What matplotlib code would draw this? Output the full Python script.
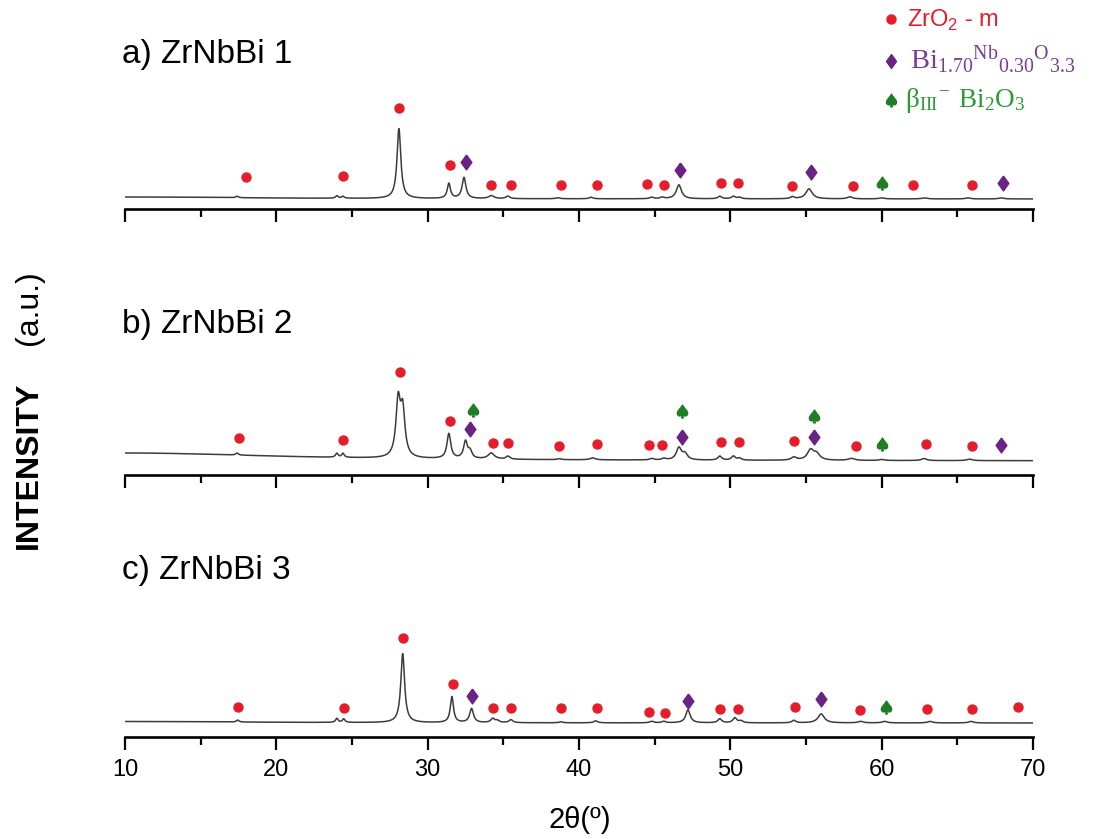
import numpy as np
import matplotlib
matplotlib.use('Agg')
import matplotlib.pyplot as plt
from matplotlib.ticker import MultipleLocator
from matplotlib.lines import Line2D

plt.rcParams['font.family'] = ['Liberation Sans', 'DejaVu Sans']

# ---- datos (alturas en unidades arbitrarias) ----
two_theta = np.linspace(10, 70, 4000)

# picos: posicion (grados), altura, anchura (FWHM, grados)
pos_a = [10.0, 17.4, 24.0, 24.4, 28.1, 31.4, 32.4, 34.2, 35.3, 38.6, 40.8, 44.8, 45.5,
         46.6, 49.3, 50.2, 50.6, 54.1, 55.2, 57.9, 60.0, 62.8, 65.7, 67.9]
h_a = [2.0, 1.5, 2.5, 2.0, 70, 15, 21, 3.0, 2.5, 1.0, 1.5, 1.5, 1.5,
       14, 2.5, 2.5, 1.5, 2.0, 10, 2.0, 1.0, 1.0, 1.0, 1.0]
w_a = [20, 0.2, 0.2, 0.2, 0.3, 0.25, 0.3, 0.4, 0.3, 0.3, 0.3, 0.3, 0.3,
       0.4, 0.3, 0.3, 0.3, 0.3, 0.5, 0.4, 0.4, 0.4, 0.4, 0.4]
base_a = 10

pos_b = [10.0, 17.4, 24.0, 24.4, 28.05, 28.35, 31.4, 32.5, 32.8, 34.2, 35.3, 38.7, 40.9,
         44.8, 45.6, 46.6, 47.0, 49.3, 50.2, 50.6, 54.2, 55.3, 55.7, 58.0, 60.0, 62.8, 65.8]
h_b = [8.0, 2.0, 4.0, 4.0, 55, 45, 25, 17, 7, 6, 3, 1, 2,
       1.5, 1.5, 12, 6, 4, 4, 2, 3, 10, 6, 2, 1, 2, 1.5]
w_b = [25, 0.2, 0.2, 0.2, 0.35, 0.35, 0.3, 0.3, 0.3, 0.5, 0.3, 0.3, 0.4,
       0.3, 0.3, 0.4, 0.4, 0.3, 0.3, 0.3, 0.4, 0.5, 0.5, 0.5, 0.4, 0.4, 0.4]
base_b = 14

pos_c = [10.0, 17.45, 24.0, 24.45, 28.35, 31.6, 32.9, 34.3, 34.6, 35.5, 38.8, 41.1, 44.8,
         45.6, 47.2, 49.3, 50.3, 50.7, 54.2, 56.0, 58.6, 60.2, 63.2, 65.9]
h_c = [1.5, 2.0, 4.0, 3.5, 69, 26, 14, 4, 2, 3, 1, 2, 1.5,
       1.5, 13, 4, 5, 2, 2.5, 9, 1.5, 1.5, 1.5, 1.5]
w_c = [20, 0.2, 0.2, 0.2, 0.3, 0.25, 0.3, 0.3, 0.3, 0.3, 0.3, 0.3, 0.3,
       0.3, 0.35, 0.3, 0.3, 0.3, 0.3, 0.5, 0.4, 0.4, 0.4, 0.4]
base_c = 14

# marcadores de fases: posicion y altura
zro2_a_x = [18.0, 24.4, 28.1, 31.45, 34.2, 35.5, 38.8, 41.2, 44.5, 45.6, 49.4, 50.5, 54.1, 58.1, 62.1, 66.0]
zro2_a_y = [32, 33, 101, 44, 24, 24, 24, 24, 25, 24, 26, 26, 23, 23, 24, 24]
bino_a_x = [32.5, 46.7, 55.3, 68.0]
bino_a_y = [47, 39, 37, 26]
bi2o3_a_x = [60.0]
bi2o3_a_y = [26]

zro2_b_x = [17.5, 24.4, 28.15, 31.45, 34.3, 35.3, 38.7, 41.2, 44.6, 45.5, 49.4, 50.6, 54.2, 58.3, 62.9, 66.0]
zro2_b_y = [37, 35, 103, 54, 32, 32, 29, 31, 30, 30, 33, 33, 34, 29, 31, 29]
bino_b_x = [32.8, 46.8, 55.5, 67.9]
bino_b_y = [46, 38, 38, 30]
bi2o3_b_x = [33.0, 46.8, 55.5, 60.0]
bi2o3_b_y = [65, 64, 59, 31]

zro2_c_x = [17.45, 24.5, 28.35, 31.65, 34.3, 35.5, 38.8, 41.2, 44.6, 45.7, 49.3, 50.5, 54.3, 58.6, 63.0, 66.0, 69.0]
zro2_c_y = [30, 29, 99, 53, 29, 29, 29, 29, 25, 24, 28, 28, 30, 27, 28, 28, 30]
bino_c_x = [32.95, 47.2, 56.0]
bino_c_y = [41, 36, 38]
bi2o3_c_x = [60.3]
bi2o3_c_y = [30]

titulos = ['a) ZrNbBi 1', 'b) ZrNbBi 2', 'c) ZrNbBi 3']
leyenda = [r'ZrO$_\mathregular{2}$ - m',
           r'$\mathregular{Bi_{1.70}{}^{Nb}{}_{0.30}{}^{O}{}_{3.3}}$',
           r'$\mathregular{\beta_{III}{}^{-}\ Bi_{2}O_{3}}$']

c_red = '#e31e2a'
c_purple = '#6a2385'
c_green = '#1f7d24'
c_line = '#3c3c3c'
rombo = [(0, 1), (0.72, 0), (0, -1), (-0.72, 0), (0, 1)]
pica = '$\u2660$'


def patron(pos, h, w, base):
    y = np.full_like(two_theta, float(base))
    for p, a, f in zip(pos, h, w):
        y += a / (1 + ((two_theta - p) / (f / 2)) ** 2)
    return y


paneles = [
    (pos_a, h_a, w_a, base_a, zro2_a_x, zro2_a_y, bino_a_x, bino_a_y, bi2o3_a_x, bi2o3_a_y),
    (pos_b, h_b, w_b, base_b, zro2_b_x, zro2_b_y, bino_b_x, bino_b_y, bi2o3_b_x, bi2o3_b_y),
    (pos_c, h_c, w_c, base_c, zro2_c_x, zro2_c_y, bino_c_x, bino_c_y, bi2o3_c_x, bi2o3_c_y),
]

W, H = 1094, 839
fig = plt.figure(figsize=(W / 100, H / 100), dpi=100)

eje_px = [209, 475, 737]      # linea del eje (px desde arriba)
titulo_px = [63, 333, 579]    # linea base del titulo
alto_px = 120

for i, (pos, h, w, base, zx, zy, bx, by, sx, sy) in enumerate(paneles):
    ax = fig.add_axes([125 / W, 1 - eje_px[i] / H, (1033 - 125) / W, alto_px / H])
    ax.plot(two_theta, patron(pos, h, w, base), color=c_line, lw=1.1)
    ax.scatter(zx, zy, s=42, color=c_red, zorder=3, clip_on=False)
    ax.scatter(bx, by, marker=rombo, s=115, color=c_purple, zorder=3, clip_on=False)
    ax.scatter(sx, sy, marker=pica, s=85, color=c_green, zorder=3, clip_on=False)
    ax.set_xlim(10, 70)
    ax.set_ylim(0, alto_px)
    for s in ['top', 'left', 'right']:
        ax.spines[s].set_visible(False)
    ax.spines['bottom'].set_linewidth(1.9)
    ax.set_yticks([])
    ax.xaxis.set_major_locator(MultipleLocator(10))
    ax.xaxis.set_minor_locator(MultipleLocator(5))
    ax.tick_params(axis='x', which='major', direction='out', length=9, width=1.6,
                   labelsize=17, pad=7, labelbottom=(i == 2))
    ax.tick_params(axis='x', which='minor', direction='out', length=5.5, width=1.6)
    ax.patch.set_alpha(0)
    fig.text(122 / W, 1 - titulo_px[i] / H, titulos[i], fontsize=24, va='baseline', ha='left')

fig.text(580 / W, 1 - 820 / H, '2θ(º)', fontsize=21, ha='center', va='center')
fig.text(29 / W, 1 - 465 / H, 'INTENSITY', fontsize=23, weight='bold', rotation=90,
         ha='center', va='center')
fig.text(29 / W, 1 - 308 / H, '(a.u.)', fontsize=23, rotation=90, ha='center', va='center')

# leyenda (simbolo + texto)
ley_y = [19, 61, 100]
ley_base = [27, 68, 107]
ley_x_txt = [907, 910, 905]
ley_marcas = [dict(marker='o', ms=6.5, color=c_red),
              dict(marker=rombo, ms=10, color=c_purple),
              dict(marker=pica, ms=9, color=c_green)]
ley_colores = [c_red, '#7a3b96', '#2c9a36']
ley_fuentes = ['Liberation Sans', 'Liberation Serif', 'Liberation Serif']
ley_tam = [17, 20.5, 19.5]
for k in range(3):
    fig.add_artist(Line2D([891 / W], [1 - ley_y[k] / H], transform=fig.transFigure,
                          ls='none', **ley_marcas[k]))
    fig.text(ley_x_txt[k] / W, 1 - ley_base[k] / H, leyenda[k], color=ley_colores[k],
             fontsize=ley_tam[k], family=ley_fuentes[k], va='baseline', ha='left')

fig.savefig('out.png', dpi=100)
